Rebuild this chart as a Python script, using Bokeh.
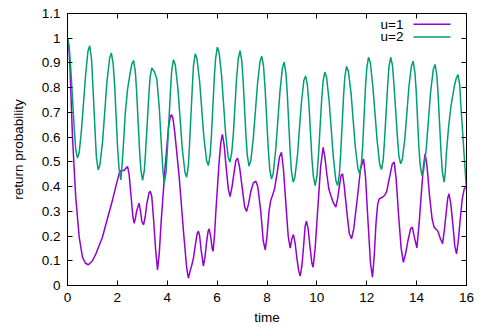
from bokeh.plotting import figure
from bokeh.models import (LinearAxis, FixedTicker, CustomJSTickFormatter,
                          Label, Range1d, Arrow)
from bokeh.embed import file_html
from bokeh.resources import INLINE

# ---- data ----
x_ticks = [0, 2, 4, 6, 8, 10, 12, 14, 16]
y_ticks = [0, 0.1, 0.2, 0.3, 0.4, 0.5, 0.6, 0.7, 0.8, 0.9, 1.0, 1.1]

series_names = ["u=1", "u=2"]

# (time, return probability) for u=1
u1_points = [
    (0.00, 1.00), (0.05, 0.97), (0.10, 0.88), (0.20, 0.60), (0.33, 0.357),
    (0.47, 0.195), (0.60, 0.115), (0.72, 0.09), (0.84, 0.084), (1.00, 0.10),
    (1.14, 0.128), (1.40, 0.195), (1.60, 0.27), (1.80, 0.344), (2.00, 0.425),
    (2.08, 0.455), (2.14, 0.465), (2.27, 0.465), (2.35, 0.475), (2.41, 0.481),
    (2.47, 0.45), (2.55, 0.36), (2.62, 0.28), (2.67, 0.252), (2.72, 0.27),
    (2.77, 0.30), (2.87, 0.333), (2.93, 0.30), (2.98, 0.26), (3.05, 0.245),
    (3.12, 0.28), (3.18, 0.33), (3.27, 0.375), (3.32, 0.381), (3.38, 0.36),
    (3.45, 0.27), (3.53, 0.15), (3.61, 0.063), (3.68, 0.13), (3.75, 0.25),
    (3.90, 0.46), (4.05, 0.64), (4.12, 0.68), (4.17, 0.691), (4.23, 0.675),
    (4.30, 0.62), (4.48, 0.438), (4.65, 0.22), (4.78, 0.07), (4.85, 0.03),
    (4.92, 0.06), (4.98, 0.081), (5.05, 0.11), (5.12, 0.16), (5.20, 0.21),
    (5.25, 0.22), (5.30, 0.20), (5.35, 0.15), (5.45, 0.078), (5.52, 0.12),
    (5.57, 0.17), (5.64, 0.22), (5.68, 0.229), (5.74, 0.20), (5.80, 0.15),
    (5.84, 0.139), (5.90, 0.21), (5.95, 0.30), (6.08, 0.50), (6.15, 0.58),
    (6.21, 0.611), (6.28, 0.57), (6.36, 0.48), (6.45, 0.39), (6.52, 0.36),
    (6.60, 0.40), (6.67, 0.45), (6.75, 0.505), (6.82, 0.515), (6.90, 0.48),
    (7.00, 0.40), (7.10, 0.32), (7.18, 0.299), (7.26, 0.33), (7.35, 0.38),
    (7.45, 0.415), (7.55, 0.422), (7.63, 0.40), (7.75, 0.30), (7.85, 0.18),
    (7.93, 0.144), (8.00, 0.20), (8.08, 0.30), (8.15, 0.345), (8.22, 0.364),
    (8.30, 0.39), (8.40, 0.45), (8.50, 0.52), (8.58, 0.539), (8.66, 0.47),
    (8.75, 0.34), (8.85, 0.20), (8.93, 0.151), (9.00, 0.19), (9.06, 0.206),
    (9.13, 0.17), (9.20, 0.11), (9.27, 0.06), (9.33, 0.038), (9.40, 0.08),
    (9.46, 0.15), (9.53, 0.24), (9.58, 0.26), (9.65, 0.23), (9.72, 0.16),
    (9.80, 0.09), (9.85, 0.074), (9.93, 0.15), (10.05, 0.33), (10.15, 0.48),
    (10.25, 0.559), (10.32, 0.52), (10.40, 0.45), (10.48, 0.39), (10.56, 0.364),
    (10.66, 0.335), (10.76, 0.317), (10.83, 0.35), (10.90, 0.40), (10.97, 0.445),
    (11.03, 0.452), (11.10, 0.40), (11.20, 0.30), (11.30, 0.21), (11.39, 0.189),
    (11.48, 0.23), (11.63, 0.36), (11.75, 0.47), (11.87, 0.512), (11.95, 0.44),
    (12.05, 0.26), (12.15, 0.09), (12.23, 0.034), (12.30, 0.12), (12.37, 0.25),
    (12.44, 0.33), (12.50, 0.35), (12.63, 0.357), (12.72, 0.365), (12.80, 0.38),
    (12.92, 0.44), (13.02, 0.49), (13.10, 0.499), (13.18, 0.43), (13.28, 0.28),
    (13.38, 0.15), (13.47, 0.094), (13.56, 0.13), (13.65, 0.18), (13.76, 0.23),
    (13.83, 0.236), (13.90, 0.20), (14.01, 0.152), (14.10, 0.25), (14.18, 0.36),
    (14.27, 0.48), (14.34, 0.532), (14.41, 0.49), (14.52, 0.36), (14.62, 0.27),
    (14.70, 0.236), (14.78, 0.228), (14.85, 0.22), (14.95, 0.19), (15.04, 0.169),
    (15.12, 0.23), (15.18, 0.29), (15.25, 0.355), (15.30, 0.371), (15.37, 0.33),
    (15.45, 0.25), (15.53, 0.16), (15.60, 0.128), (15.67, 0.18), (15.75, 0.27),
    (15.83, 0.35), (15.91, 0.391), (16.00, 0.40),
]

# (time, return probability) for u=2
u2_points = [
    (0.00, 1.00), (0.07, 0.964), (0.13, 0.879), (0.27, 0.636), (0.33, 0.551),
    (0.40, 0.515), (0.47, 0.538), (0.56, 0.629), (0.73, 0.856), (0.82, 0.947),
    (0.89, 0.97), (0.96, 0.92), (1.00, 0.845), (1.12, 0.594), (1.16, 0.518),
    (1.23, 0.468), (1.30, 0.488), (1.41, 0.586), (1.58, 0.822), (1.69, 0.92),
    (1.76, 0.94), (1.83, 0.897), (1.89, 0.812), (2.01, 0.555), (2.07, 0.47),
    (2.14, 0.427), (2.19, 0.49), (2.23, 0.55), (2.32, 0.70), (2.41, 0.795),
    (2.53, 0.87), (2.58, 0.895), (2.65, 0.91), (2.72, 0.865), (2.77, 0.789),
    (2.89, 0.546), (2.94, 0.47), (3.01, 0.425), (3.08, 0.465), (3.13, 0.539),
    (3.26, 0.766), (3.31, 0.84), (3.38, 0.88), (3.48, 0.865), (3.58, 0.836),
    (3.68, 0.72), (3.78, 0.54), (3.83, 0.46), (3.88, 0.414), (3.95, 0.457),
    (4.00, 0.539), (4.13, 0.789), (4.18, 0.87), (4.25, 0.913), (4.32, 0.893),
    (4.43, 0.794), (4.60, 0.556), (4.71, 0.458), (4.78, 0.438), (4.85, 0.488),
    (4.89, 0.563), (5.01, 0.812), (5.05, 0.887), (5.12, 0.937), (5.19, 0.918),
    (5.30, 0.824), (5.47, 0.598), (5.58, 0.504), (5.65, 0.485), (5.72, 0.529),
    (5.77, 0.605), (5.89, 0.844), (5.94, 0.92), (6.01, 0.964), (6.08, 0.942),
    (6.18, 0.848), (6.34, 0.615), (6.44, 0.521), (6.51, 0.499), (6.58, 0.531),
    (6.65, 0.612), (6.78, 0.837), (6.85, 0.918), (6.92, 0.95), (6.99, 0.907),
    (7.04, 0.833), (7.16, 0.60), (7.21, 0.526), (7.28, 0.483), (7.35, 0.504),
    (7.45, 0.594), (7.62, 0.816), (7.72, 0.906), (7.79, 0.927), (7.86, 0.888),
    (7.92, 0.803), (8.05, 0.555), (8.11, 0.47), (8.18, 0.431), (8.25, 0.453),
    (8.35, 0.549), (8.52, 0.785), (8.62, 0.881), (8.69, 0.903), (8.76, 0.858),
    (8.81, 0.782), (8.93, 0.539), (8.98, 0.463), (9.05, 0.418), (9.12, 0.439),
    (9.22, 0.525), (9.38, 0.74), (9.48, 0.83), (9.55, 0.847), (9.62, 0.81),
    (9.68, 0.736), (9.80, 0.515), (9.86, 0.441), (9.93, 0.404), (10.00, 0.44),
    (10.06, 0.519), (10.19, 0.748), (10.25, 0.827), (10.32, 0.863), (10.39, 0.841),
    (10.49, 0.748), (10.66, 0.519), (10.76, 0.426), (10.83, 0.404), (10.90, 0.448),
    (10.95, 0.525), (11.07, 0.766), (11.12, 0.842), (11.19, 0.886), (11.26, 0.868),
    (11.37, 0.778), (11.54, 0.561), (11.65, 0.47), (11.72, 0.452), (11.79, 0.497),
    (11.84, 0.57), (11.95, 0.805), (12.00, 0.878), (12.07, 0.923), (12.14, 0.903),
    (12.24, 0.81), (12.42, 0.583), (12.52, 0.489), (12.59, 0.469), (12.66, 0.509),
    (12.71, 0.583), (12.84, 0.81), (12.89, 0.883), (12.96, 0.923), (13.03, 0.891),
    (13.09, 0.815), (13.23, 0.60), (13.29, 0.524), (13.36, 0.492), (13.43, 0.512),
    (13.53, 0.596), (13.69, 0.803), (13.79, 0.887), (13.86, 0.907), (13.93, 0.863),
    (13.98, 0.792), (14.09, 0.561), (14.14, 0.489), (14.21, 0.445), (14.28, 0.464),
    (14.39, 0.557), (14.56, 0.782), (14.67, 0.875), (14.74, 0.894), (14.81, 0.85),
    (14.86, 0.775), (14.98, 0.537), (15.03, 0.462), (15.10, 0.418), (15.15, 0.46),
    (15.19, 0.53), (15.28, 0.64), (15.37, 0.72), (15.52, 0.81), (15.59, 0.838),
    (15.66, 0.853), (15.73, 0.81), (15.77, 0.735), (15.89, 0.55), (16.00, 0.385),
]

u1_time = [t for t, _ in u1_points]
u1_prob = [v for _, v in u1_points]
u2_time = [t for t, _ in u2_points]
u2_prob = [v for _, v in u2_points]

# ---- styling ----
FONT = "Liberation Sans"
FSIZE = "13.5px"
PURPLE = "#9400d3"
GREEN = "#009e73"
COLORS = [PURPLE, GREEN]

p = figure(width=491, height=327, output_backend="svg", toolbar_location=None,
           x_range=Range1d(0, 16), y_range=Range1d(0, 1.1),
           min_border_left=67, min_border_right=25, min_border_top=13,
           min_border_bottom=42)
p.xgrid.visible = False
p.ygrid.visible = False
p.outline_line_color = "black"
p.outline_line_width = 1
p.background_fill_color = "white"
p.border_fill_color = "white"

fmt = CustomJSTickFormatter(code="return String(Math.round(tick*10)/10);")
blank_fmt = CustomJSTickFormatter(code="return '';")

def style_axis(ax, ticks, show_labels):
    ax.ticker = FixedTicker(ticks=ticks)
    ax.axis_line_color = "black"
    ax.major_tick_line_color = "black"
    ax.major_tick_in = 5
    ax.major_tick_out = 0
    ax.minor_tick_line_color = None
    ax.major_label_text_font = FONT
    ax.major_label_text_color = "black"
    if show_labels:
        ax.formatter = fmt
        ax.major_label_text_font_size = FSIZE
    else:
        ax.formatter = blank_fmt
        ax.major_label_text_font_size = "1px"
        ax.major_label_standoff = 0

style_axis(p.xaxis[0], x_ticks, True)
style_axis(p.yaxis[0], y_ticks, True)
p.xaxis[0].major_label_standoff = 7
p.yaxis[0].major_label_standoff = 7
p.xaxis[0].axis_label = "time"
p.yaxis[0].axis_label = "return probability"
for ax in (p.xaxis[0], p.yaxis[0]):
    ax.axis_label_text_font = FONT
    ax.axis_label_text_font_size = FSIZE
    ax.axis_label_text_font_style = "normal"
    ax.axis_label_text_color = "black"
p.xaxis[0].axis_label_standoff = 5
p.yaxis[0].axis_label_standoff = 13

top_ax = LinearAxis()
right_ax = LinearAxis()
style_axis(top_ax, x_ticks, False)
style_axis(right_ax, y_ticks, False)
p.add_layout(top_ax, "above")
p.add_layout(right_ax, "right")

p.line(u1_time, u1_prob, line_color=PURPLE, line_width=1.5)
p.line(u2_time, u2_prob, line_color=GREEN, line_width=1.5)

# gnuplot-style key: text on the left, line sample on the right
for name, color, ys in zip(series_names, COLORS, [261.3, 248.6]):
    p.add_layout(Label(x=336, y=ys, x_units="screen", y_units="screen",
                       text=name, text_align="right", text_baseline="middle",
                       text_font=FONT, text_font_size=FSIZE, text_color="black"))
    p.add_layout(Arrow(end=None, x_start=346, y_start=ys, x_end=383, y_end=ys,
                       start_units="screen", end_units="screen",
                       line_color=color, line_width=1.5))

open("out.html", "w").write(file_html(p, INLINE))
